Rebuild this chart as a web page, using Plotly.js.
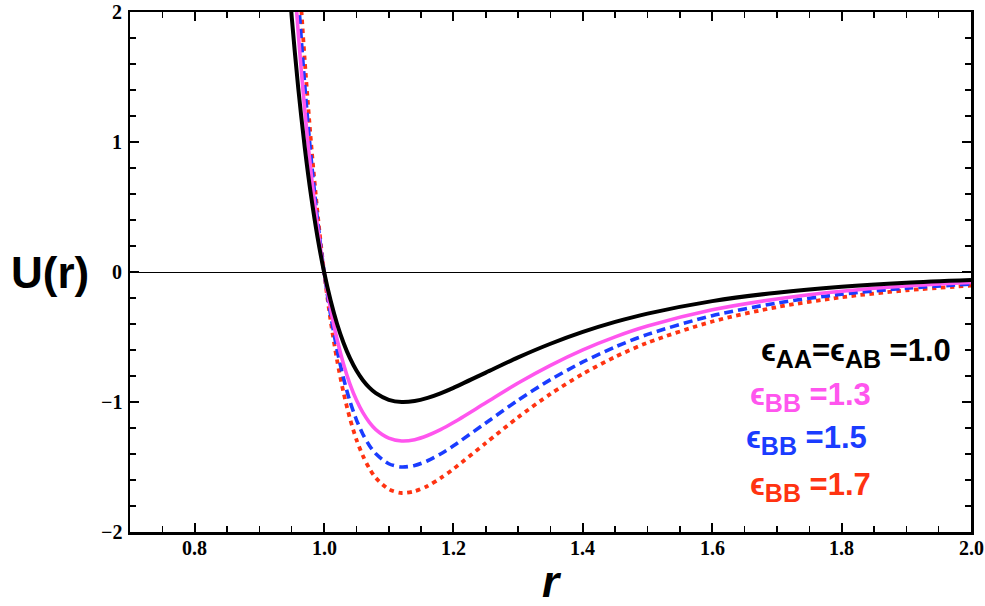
<!DOCTYPE html>
<html>
<head>
<meta charset="utf-8">
<script src="https://cdn.plot.ly/plotly-3.0.1.min.js"></script>
<style>html,body{margin:0;padding:0;background:#fff}#chart{width:985px;height:606px}</style>
</head>
<body>
<div id="chart"></div>
<script>
// r values (shared by all curves)
const r = [0.94,0.95,0.96,0.97,0.98,0.99,1.00,1.01,1.02,1.03,1.04,1.05,1.06,1.07,1.08,1.10,1.12,1.14,1.16,1.18,1.20,1.25,1.30,1.35,1.40,1.45,1.50,1.60,1.70,1.80,1.90,2.00];
// U(r) read for each epsilon
const U_10 = [2.607,1.961,1.418,0.963,0.582,0.264,0,-0.218,-0.398,-0.544,-0.663,-0.758,-0.832,-0.889,-0.932,-0.983,-1.000,-0.992,-0.968,-0.933,-0.891,-0.774,-0.657,-0.552,-0.461,-0.384,-0.320,-0.224,-0.159,-0.114,-0.083,-0.062];
const U_13 = [3.389,2.549,1.843,1.252,0.757,0.343,0,-0.283,-0.517,-0.707,-0.862,-0.985,-1.082,-1.156,-1.212,-1.278,-1.300,-1.290,-1.258,-1.213,-1.158,-1.006,-0.854,-0.718,-0.599,-0.499,-0.416,-0.291,-0.207,-0.148,-0.108,-0.081];
const U_15 = [3.911,2.942,2.127,1.445,0.873,0.396,0,-0.327,-0.597,-0.816,-0.995,-1.137,-1.248,-1.334,-1.398,-1.475,-1.500,-1.488,-1.452,-1.400,-1.337,-1.161,-0.986,-0.828,-0.692,-0.576,-0.480,-0.336,-0.239,-0.171,-0.125,-0.093];
const U_17 = [4.432,3.334,2.411,1.637,0.989,0.449,0,-0.371,-0.677,-0.925,-1.127,-1.289,-1.414,-1.511,-1.584,-1.671,-1.700,-1.686,-1.646,-1.586,-1.515,-1.316,-1.117,-0.938,-0.784,-0.653,-0.544,-0.381,-0.270,-0.194,-0.141,-0.105];
const eps = ["ϵ<sub>AA</sub>=ϵ<sub>AB</sub>","ϵ<sub>BB</sub>","ϵ<sub>BB</sub>","ϵ<sub>BB</sub>"];
const epsVal = ["1.0","1.3","1.5","1.7"];
const xTicks = [0.8,1.0,1.2,1.4,1.6,1.8,2.0];
const xTickText = ["0.8","1.0","1.2","1.4","1.6","1.8","2.0"];
const yTicks = [-2,-1,0,1,2];
const yTickText = ["\u22122","\u22121","0","1","2"];

const colors = ["#000000","#ff55ee","#1a3cff","#ff3311"];
const dashes = ["solid","solid","9px,5px","4.5px,4.5px"];
const widths = [4,3.6,3.6,3.8];
const series = [U_10,U_13,U_15,U_17];
const traces = series.map((u,i)=>({
  x: r, y: u, type:"scatter", mode:"lines",
  line:{color:colors[i], width:widths[i], dash:dashes[i], shape:"spline", smoothing:0.8},
  hoverinfo:"skip", showlegend:false
})).reverse();

const tickFont = {family:"Liberation Serif, Times New Roman, serif", size:20, color:"#000"};
const annY = [353,397,440,487];
const annX = [953,873,869,873];
const annotations = eps.map((t,i)=>({
  xref:"paper", yref:"paper",
  x:(annX[i]-130)/841, y:(532-annY[i])/520,
  xanchor:"right", yanchor:"middle", showarrow:false,
  text:"<b>"+t.replace(/<sub>(\w+)<\/sub>/g,"<sub><span style='font-size:25px'>$1</span></sub>")+" ="+epsVal[i]+"</b>",
  font:{family:"Liberation Sans, Arial, sans-serif", size:31, color:colors[i]}
}));
annotations.push({
  xref:"paper", yref:"paper", x:(50-130)/841, y:0.5, xanchor:"center", yanchor:"middle",
  showarrow:false, text:"<b>U(r)</b>",
  font:{family:"Liberation Sans, Arial, sans-serif", size:44, color:"#000"}
});
annotations.push({
  xref:"paper", yref:"paper", x:(552-130)/841, y:(532-581)/520, xanchor:"center", yanchor:"middle",
  showarrow:false, text:"<b><i>r</i></b>",
  font:{family:"Liberation Sans, Arial, sans-serif", size:44, color:"#000"}
});
// tick labels
xTicks.forEach((v,i)=>annotations.push({
  xref:"x", yref:"paper", x:v, y:(532-548)/520, xanchor:"center", yanchor:"middle",
  showarrow:false, text:"<b>"+xTickText[i]+"</b>", font:tickFont
}));
yTicks.forEach((v,i)=>annotations.push({
  xref:"paper", yref:"y", x:(124-130)/841, y:v, xanchor:"right", yanchor:"middle",
  showarrow:false, text:"<b>"+yTickText[i]+"</b>", font:tickFont
}));

const layout = {
  width:985, height:606,
  margin:{l:130, r:14, t:12, b:74},
  paper_bgcolor:"#fff", plot_bgcolor:"#fff",
  showlegend:false,
  xaxis:{
    range:[0.7,2.0], tickmode:"array", tickvals:xTicks, showticklabels:false,
    ticks:"inside", ticklen:9, tickwidth:2, tickcolor:"#000",
    showline:true, linewidth:2.5, linecolor:"#000", mirror:"allticks",
    showgrid:false, zeroline:false,
    minor:{dtick:0.05, tick0:0.7, ticks:"inside", ticklen:6, tickwidth:1.5, tickcolor:"#000", showgrid:false}
  },
  yaxis:{
    range:[-2,2], tickmode:"array", tickvals:yTicks, showticklabels:false,
    ticks:"inside", ticklen:9, tickwidth:2, tickcolor:"#000",
    showline:true, linewidth:2.5, linecolor:"#000", mirror:"allticks",
    showgrid:false, zeroline:true, zerolinecolor:"#000", zerolinewidth:1,
    minor:{dtick:0.2, tick0:0, ticks:"inside", ticklen:6, tickwidth:1.5, tickcolor:"#000", showgrid:false}
  },
  annotations:annotations
};
Plotly.newPlot("chart", traces, layout, {displayModeBar:false, staticPlot:true});
</script>
</body>
</html>
